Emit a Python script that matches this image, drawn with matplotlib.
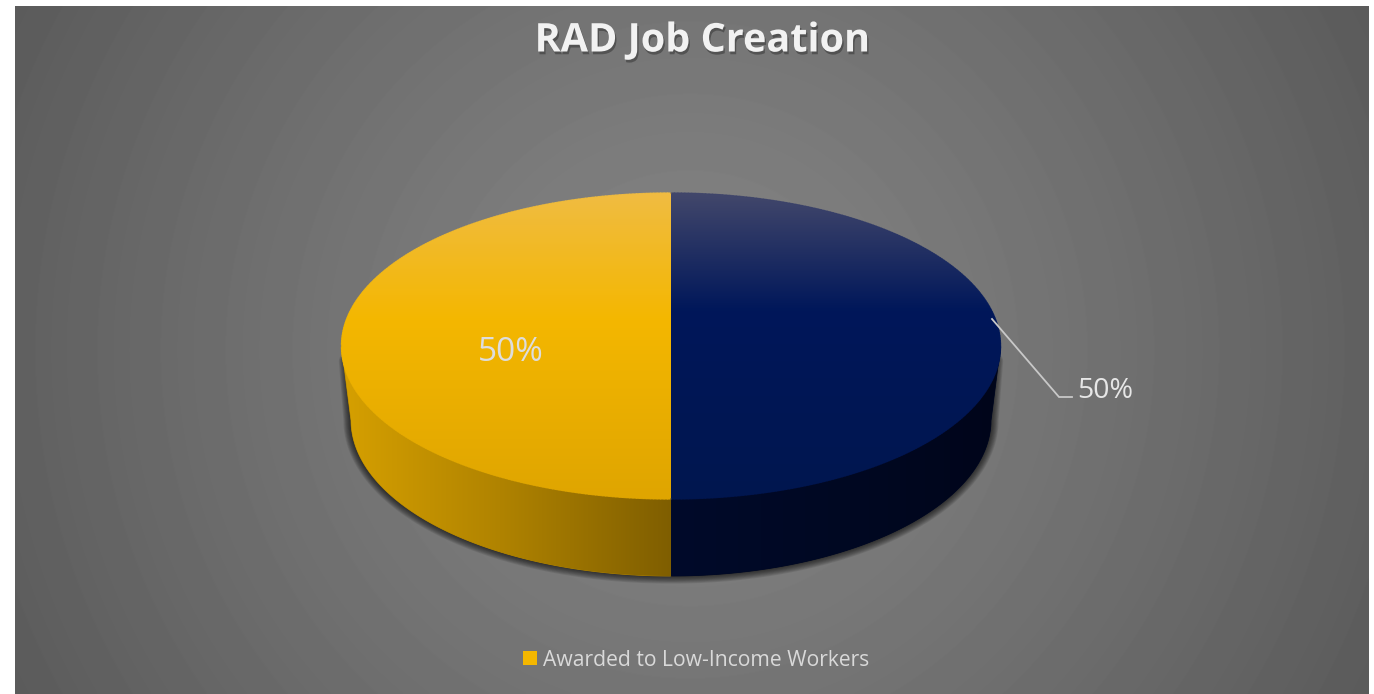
import numpy as np
import matplotlib
matplotlib.use("Agg")
import matplotlib.pyplot as plt
from matplotlib.collections import LineCollection
from matplotlib.colors import to_rgb
from matplotlib.patches import Patch, Polygon
import matplotlib.patheffects as pe

# ---- data ----
title = "RAD Job Creation"
shares = [50, 50]
legend_names = ["Awarded to Low-Income Workers"]
base_colors = ["#F4B700", "#00175A"]

# ---- layout (pixels in the reference) ----
W, H = 1374, 694
CX, CY, RX, RY = 671.0, 346.0, 329.5, 153.0
BOTTOM_CY, BOTTOM_RX, BOTTOM_RY = 420.0, 320.0, 156.0


def ux(px):
    return (px - CX) / RX


def uy(py):
    return (CY - py) / RY


fig = plt.figure(figsize=(W / 100, H / 100), dpi=100, facecolor="white")
ax = fig.add_axes([0, 0, 1, 1])
wedges, _ = ax.pie(shares, colors=base_colors, startangle=90, counterclock=True,
                   radius=1, center=(0, 0), frame=True)
ax.set_aspect("auto")
ax.set_xlim(ux(0), ux(W))
ax.set_ylim(uy(H), uy(0))
ax.set_autoscale_on(False)
ax.axis("off")

# background: radial grey fill
yy, xx = np.mgrid[6:694, 15:1369]
d = np.hypot(xx - 690, yy - 350) / 770
bg = 133 - 43 * d ** 1.2
ax.imshow(bg, cmap="gray", vmin=0, vmax=255, aspect="auto", zorder=0,
          extent=(ux(15), ux(1369), uy(694), uy(6)), interpolation="bilinear")


def ramp(stops, positions):
    c = np.array([to_rgb(s[1]) for s in stops])
    p = [s[0] for s in stops]
    return np.stack([np.interp(positions, p, c[:, i]) for i in range(3)], axis=1)


bx, by, bry = BOTTOM_RX / RX, uy(BOTTOM_CY), BOTTOM_RY / RY


def lower_arc(theta1, theta2):
    t = np.radians(np.linspace(theta1, theta2, 500))
    return t[np.sin(t) <= 0.0]


def side_points(w):
    t = lower_arc(w.theta1, w.theta2)
    upper = np.c_[np.cos(t), np.sin(t)]
    lower = np.c_[bx * np.cos(t), by + bry * np.sin(t)]
    return np.vstack([upper, lower[::-1]])


# soft drop shadow below and beside the wall
t_all = np.radians(np.linspace(180, 360, 600))
sil = np.vstack([np.c_[bx * np.cos(t_all), by + bry * np.sin(t_all)],
                 [[0.985, uy(361)]], [[-0.985, uy(361)]]])
for lw in np.arange(11, 0.5, -1.2):
    ax.add_patch(Polygon(sil, closed=True, facecolor="none", edgecolor="black",
                         lw=lw, alpha=0.085, joinstyle="round", zorder=1))

side_styles = [
    [(342, "#D6A000"), (500, "#B08300"), (671, "#7F5E00")],
    [(671, "#000A2A"), (850, "#000822"), (1001, "#00051A")],
]
for w, st in zip(wedges, side_styles):
    poly = Polygon(side_points(w), closed=True, facecolor=st[1][1],
                   edgecolor=st[1][1], lw=0.6, zorder=2)
    ax.add_patch(poly)
    l, r = st[0][0], st[-1][0]
    img = ramp(st, np.linspace(l, r, 256))[None, :, :]
    im = ax.imshow(img, aspect="auto", zorder=3,
                   extent=(ux(l), ux(r), uy(580), uy(CY - 2)))
    im.set_clip_path(poly)

# top face
top_styles = [
    [(193, "#F0BC42"), (320, "#F4B700"), (499, "#DFA500")],
    [(193, "#42476B"), (310, "#00175A"), (499, "#00164F")],
]
for w, st in zip(wedges, top_styles):
    w.set_zorder(4)
    img = ramp(st, np.linspace(193, 499, 256))[:, None, :]
    im = ax.imshow(img, aspect="auto", zorder=5,
                   extent=(ux(342), ux(1001), uy(499), uy(193)))
    im.set_clip_path(w)
    # smooth rim following the same gradient
    t = np.radians(np.linspace(w.theta1, w.theta2, 300))
    x, y = np.cos(t), np.sin(t)
    segs = np.stack([np.c_[x[:-1], y[:-1]], np.c_[x[1:], y[1:]]], axis=1)
    ys_px = CY - RY * (y[:-1] + y[1:]) / 2
    ax.add_collection(LineCollection(segs, colors=ramp(st, ys_px), linewidths=1.0,
                                     alpha=0.8, zorder=6, capstyle="round"))

# value labels
ax.text(ux(511), uy(352.5), f"{shares[0]}%", color="#DDDDDD", fontsize=24,
        family="Open Sans", ha="center", va="center", zorder=8)
ax.text(ux(1105), uy(390.5), f"{shares[1]}%", color="#E6E6E6", fontsize=20.5,
        family="Open Sans", ha="center", va="center", zorder=8)
ax.plot([ux(992), ux(1059), ux(1072)], [uy(319), uy(397), uy(397)],
        color="#C8C8C8", lw=1.3, zorder=8, solid_joinstyle="miter")

# title
t = ax.text(ux(702.5), uy(51.5), title, color="#F2F2F2", fontsize=28.5, fontweight="bold",
            family="Open Sans", ha="center", va="baseline", zorder=8)
t.set_path_effects([pe.withSimplePatchShadow(offset=(1, -2), shadow_rgbFace="black", alpha=0.3)])

# legend
handle = Patch(facecolor=base_colors[0], edgecolor="none")
leg = ax.legend([handle], legend_names, loc="center", frameon=False,
                bbox_to_anchor=(696.5 / W, 1 - 660 / H), bbox_transform=fig.transFigure,
                labelcolor="#D9D9D9", handlelength=0.66, handleheight=0.66,
                handletextpad=0.29, borderpad=0,
                prop={"family": "Open Sans", "size": 15.2})
leg.set_zorder(8)

fig.savefig("out.png", dpi=100, facecolor="white")
